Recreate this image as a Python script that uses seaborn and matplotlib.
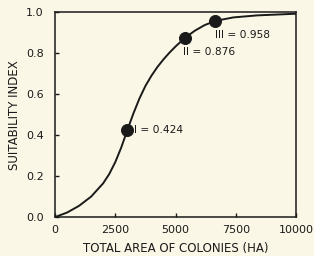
import pandas as pd
import matplotlib.pyplot as plt
import seaborn as sns

# curve
area_ha = [0, 500, 1000, 1500, 2000, 2250, 2500, 2750, 3000, 3250, 3500,
           3750, 4000, 4250, 4500, 4750, 5000, 5400, 5800, 6200, 6650,
           7400, 8400, 10000]
suit_index = [0.0, 0.022, 0.055, 0.1, 0.165, 0.21, 0.268, 0.34, 0.424,
              0.505, 0.578, 0.64, 0.69, 0.733, 0.77, 0.803, 0.833, 0.876,
              0.91, 0.937, 0.958, 0.975, 0.985, 0.993]

# marked points
pt_area = [3000, 5400, 6650]
pt_value = [0.424, 0.876, 0.958]
pt_label = ["I = 0.424", "II = 0.876", "III = 0.958"]

x_ticks = [0, 2500, 5000, 7500, 10000]
y_ticks = [0.0, 0.2, 0.4, 0.6, 0.8, 1.0]

BG = "#FBF7E6"
INK = "#1a1a1a"

sns.set_theme(style="ticks")
plt.rcParams['font.family'] = ['DejaVu Sans']

fig = plt.figure(figsize=(3.14, 2.56), dpi=100, facecolor=BG)
ax = fig.add_axes([0.175, 0.152, 0.768, 0.80])
ax.set_facecolor(BG)

df_curve = pd.DataFrame({'area': area_ha, 'si': suit_index})
df_pts = pd.DataFrame({'area': pt_area, 'si': pt_value})

sns.lineplot(data=df_curve, x='area', y='si', color=INK, linewidth=1.4, ax=ax)
sns.scatterplot(data=df_pts, x='area', y='si', color=INK, s=75,
                edgecolor=INK, zorder=5, ax=ax)

# label offsets in points: right of I, below II and III
offsets = [(5, 0), (-1.5, -10), (0, -10.5)]
for xa, ya, lab, (dx, dy) in zip(pt_area, pt_value, pt_label, offsets):
    ax.annotate(lab, (xa, ya), xytext=(dx, dy), textcoords='offset points',
                ha='left', va='center', fontsize=7.7, color=INK)

ax.set_xlim(0, 10000)
ax.set_ylim(0, 1.0)
ax.set_xticks(x_ticks)
ax.set_xticklabels([str(t) for t in x_ticks])
ax.set_yticks(y_ticks)
ax.set_yticklabels([f"{t:.1f}" for t in y_ticks])
ax.tick_params(direction='in', length=3, width=1, colors=INK, labelsize=8, pad=6)
ax.tick_params(axis='y', pad=8)
for sp in ax.spines.values():
    sp.set_visible(True)
    sp.set_color(INK)
    sp.set_linewidth(1.1)

ax.set_xlabel("TOTAL AREA OF COLONIES (HA)", fontsize=8.5, color=INK, labelpad=5)
ax.set_ylabel("SUITABILITY INDEX", fontsize=8.5, color=INK, labelpad=4)

fig.savefig("out.png", dpi=100, facecolor=BG)
